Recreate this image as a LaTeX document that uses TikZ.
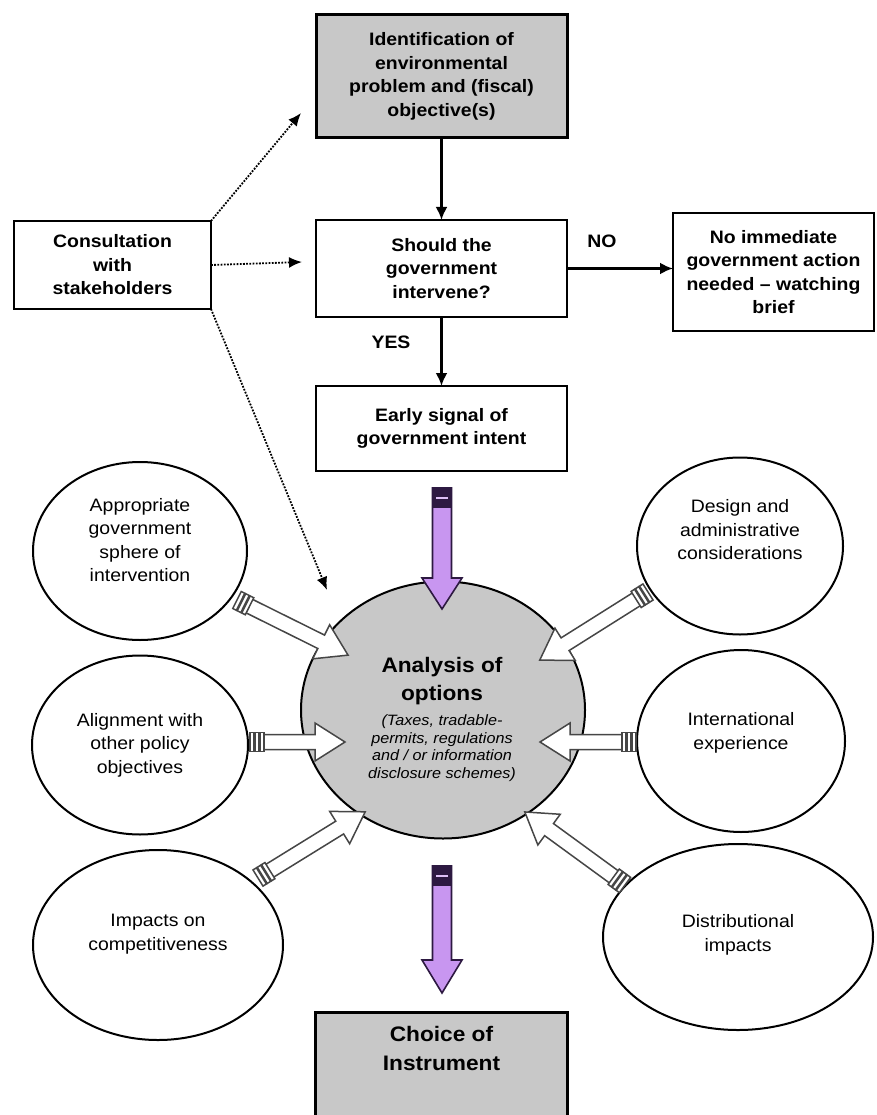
\documentclass[tikz,border=0pt]{standalone}
\usepackage{fontspec}
\setmainfont{Liberation Sans}[FakeStretch=1.08]
\usetikzlibrary{shapes.geometric,arrows.meta,calc}
\definecolor{boxgray}{RGB}{200,200,200}
\definecolor{purp}{RGB}{200,150,240}
\definecolor{purpdark}{RGB}{45,25,65}
\definecolor{hgray}{RGB}{70,70,70}
\newcommand{\btf}{\fontsize{18}{23.5}\selectfont\bfseries}
\newcommand{\rgf}{\fontsize{18}{23.5}\selectfont}
\newcommand{\harrow}[4]{%
\begin{scope}[shift={(#1,#2)},rotate=#3]
 \draw[hollowline] (14,-7.5) -- ({#4-30},-7.5) -- ({#4-30},-19) -- (#4,0) -- ({#4-30},19) -- ({#4-30},7.5) -- (14,7.5);
 \foreach \i in {0,5,10} \draw[hollowline] (\i,-9.5) rectangle ({\i+4},9.5);
\end{scope}}
\newcommand{\parrow}[4]{%
 \draw[purpdark, line width=1.6pt, fill=purp] (#1-9.5,#2) -- (#1-9.5,#3) -- (#1-20,#3) -- (#1,#4) -- (#1+20,#3) -- (#1+9.5,#3) -- (#1+9.5,#2) -- cycle;
 \fill[purpdark] (#1-10.3,#2-0.8) rectangle (#1+10.3,#2+20);
 \draw[purp!60!white, line width=2pt] (#1-6,#2+10) -- (#1+6,#2+10);
}
\begin{document}
\begin{tikzpicture}[x=1pt,y=-1pt,
 every node/.style={inner sep=0pt, outer sep=0pt},
 box/.style={draw, line width=2.5pt, fill=white, align=center, font=\btf},
 graybox/.style={box, fill=boxgray, line width=3pt},
 bubble/.style={draw, ellipse, line width=2pt, fill=white},
 btext/.style={align=center, font=\rgf},
 flow/.style={line width=2.5pt, -{Latex[length=13pt,width=12pt]}},
 dotarrow/.style={line width=1.8pt, dash pattern=on 1.8pt off 1.4pt, -{Latex[length=13pt,width=11pt]}},
 hollowline/.style={draw=hgray, line width=1.5pt, fill=white, line join=miter},
 lbl/.style={font=\btf}
]
\useasboundingbox (0,0) rectangle (876,1115);
\clip (0,0) rectangle (876,1115);
\fill[white] (0,0) rectangle (876,1115);

% boxes
\node[graybox, minimum width=251pt, minimum height=123pt] (ident) at (441.5,76.5)
 {Identification of\\environmental\\problem and (fiscal)\\objective(s)};
\node[box, minimum width=251pt, minimum height=97pt] (should) at (441.5,268.5)
 {Should the\\government\\intervene?};
\node[box, minimum width=197pt, minimum height=88pt] (cons) at (112.5,265)
 {Consultation\\with\\stakeholders};
\node[box, minimum width=201pt, minimum height=118pt] (noact) at (773.5,272)
 {No immediate\\government action\\needed -- watching\\brief};
\node[box, minimum width=251pt, minimum height=85pt] (early) at (441.5,428.5)
 {Early signal of\\government intent};
\node[graybox, minimum width=252pt, minimum height=120pt, anchor=north] (choice) at (441.5,1012) {};
\node[font=\fontsize{21}{29}\selectfont\bfseries, align=center] at (441.5,1048) {Choice of\\Instrument};

% flow arrows
\draw[flow] (ident.south) -- (should.north);
\draw[flow] (should.south) -- (early.north);
\draw[flow] (should.east) -- (noact.west |- should.east);
\node[lbl] at (602,241) {NO};
\node[lbl] at (391,342) {YES};

% dotted arrows
\coordinate (t1) at (301,113);
\coordinate (t2) at (327,590);
\coordinate (t3) at (302,262);
\draw[dotarrow] (cons.north east) -- (t1);
\draw[dotarrow] (cons.east) -- (t3);
\draw[dotarrow] (cons.south east) -- (t2);

% bubbles
\node[bubble, minimum width=214pt, minimum height=178pt] (e1) at (140,551) {};
\node[btext] at (140,540) {Appropriate\\government\\sphere of\\intervention};
\node[bubble, minimum width=216pt, minimum height=179pt] (e2) at (140,745) {};
\node[btext] at (140,745) {Alignment with\\other policy\\objectives};
\node[bubble, minimum width=250pt, minimum height=190pt] (e3) at (158,945) {};
\node[btext] at (158,934) {Impacts on\\competitiveness};
\node[bubble, minimum width=206pt, minimum height=177pt] (e4) at (740,546) {};
\node[btext] at (740,530) {Design and\\administrative\\considerations};
\node[bubble, minimum width=208pt, minimum height=182pt] (e5) at (741,741) {};
\node[btext] at (741,733) {International\\experience};
\node[bubble, minimum width=270pt, minimum height=186pt] (e6) at (738,937) {};
\node[btext] at (738,935) {Distributional\\impacts};

% central circle
\node[draw, ellipse, line width=2pt, fill=boxgray, minimum width=284pt, minimum height=257pt] (ana) at (443,710) {};
\node[font=\fontsize{21}{28}\selectfont\bfseries, align=center] at (442,681) {Analysis of\\options};
\node[font=\fontsize{15}{17.5}\selectfont\itshape, align=center] at (442,748)
 {(Taxes, tradable-\\permits, regulations\\and / or information\\disclosure schemes)};

% hollow arrows
\harrow{237}{600}{-26.4}{124}
\harrow{250}{742}{0}{95}
\harrow{258}{878}{31.7}{126}
\harrow{648}{592}{-147.8}{128}
\harrow{636}{742}{180}{96}
\harrow{625}{885}{143.9}{124}

% purple arrows
\parrow{442}{488}{578}{609}
\parrow{442}{866}{960}{993}
\end{tikzpicture}
\end{document}
